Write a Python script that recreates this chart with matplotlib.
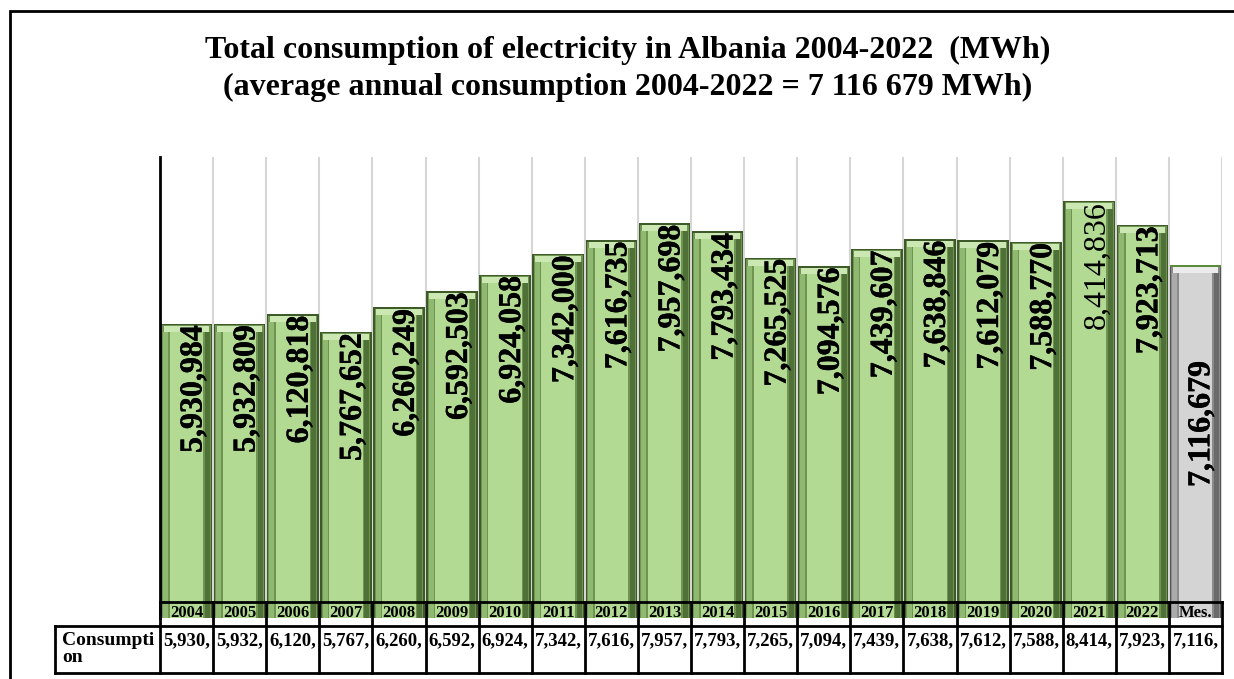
import matplotlib.pyplot as plt
import matplotlib.transforms as mtransforms
import matplotlib.patheffects as pe
from matplotlib.patches import Rectangle

plt.rcParams['font.family'] = 'Liberation Serif'

# data
categories = ['2004', '2005', '2006', '2007', '2008', '2009', '2010', '2011', '2012', '2013',
              '2014', '2015', '2016', '2017', '2018', '2019', '2020', '2021', '2022', 'Mes.']
values = [5930984, 5932809, 6120818, 5767652, 6260249, 6592503, 6924058, 7342000, 7616735,
          7957698, 7793434, 7265525, 7094576, 7439607, 7638846, 7612079, 7588770, 8414836,
          7923713, 7116679]
table_labels = ['5,930,', '5,932,', '6,120,', '5,767,', '6,260,', '6,592,', '6,924,', '7,342,',
                '7,616,', '7,957,', '7,793,', '7,265,', '7,094,', '7,439,', '7,638,', '7,612,',
                '7,588,', '8,414,', '7,923,', '7,116,']
row_name = 'Consumpti\non'

W, H = 1234, 679
fig = plt.figure(figsize=(W / 100, H / 100), dpi=100)
fig.patch.set_facecolor('white')

# outer frame
fig.add_artist(Rectangle((10 / W, 1 - 690 / H), 1240 / W, 679 / H, transform=fig.transFigure,
                         fill=False, lw=2, edgecolor='black'))

fig.text(628 / W, 1 - 50 / H, 'Total consumption of electricity in Albania 2004-2022  (MWh)',
         ha='center', va='center', fontsize=23, fontweight='bold')
fig.text(628 / W, 1 - 87 / H, '(average annual consumption 2004-2022 = 7 116 679 MWh)',
         ha='center', va='center', fontsize=23, fontweight='bold')

ax_top, ax_bot, ax_left, ax_right = 157, 618, 160, 1222
n = len(categories)
px_x = n / (ax_right - ax_left)        # one pixel in x data units
px_y = 1e6 / 49.6                      # one pixel in y data units
ax = fig.add_axes([ax_left / W, 1 - ax_bot / H, (ax_right - ax_left) / W, (ax_bot - ax_top) / H])
ax.set_xlim(-0.5, n - 0.5)
ax.set_ylim(0, (ax_bot - ax_top) * px_y)
ax.set_xticks([])
ax.set_yticks([])
for s in ['top', 'right', 'bottom']:
    ax.spines[s].set_visible(False)
ax.spines['left'].set_linewidth(2)
ax.spines['left'].set_zorder(7)

x = list(range(n))
green = {'edge': '#3e5a29', 'side': '#6f9452', 'left': '#8fb870', 'right': '#4f7036',
         'top': '#cbe7b2', 'face': '#b3da93'}
grey = {'edge': '#555555', 'side': '#8a8a8a', 'left': '#ababab', 'right': '#6a6a6a',
        'top': '#ececec', 'face': '#d4d4d4'}
cols = [grey if c == 'Mes.' else green for c in categories]

def pick(key):
    return [c[key] for c in cols]

bw = 0.97
bev = 8 * px_y
# bevel-like bars built from stacked rectangles
ax.bar(x, values, width=bw, color=pick('edge'), zorder=2)
ax.bar(x, [v - 1.5 * px_y for v in values], width=bw - 3 * px_x, color=pick('side'), zorder=3)
ax.bar([i - bw / 2 + 5 * px_x for i in x], [v - bev for v in values], width=5 * px_x,
       color=pick('left'), zorder=3.5)
ax.bar([i + bw / 2 - 5 * px_x for i in x], [v - bev for v in values], width=5 * px_x,
       color=pick('right'), zorder=3.5)
ax.bar(x, [bev - 2 * px_y] * n, bottom=[v - bev for v in values], width=bw - 6 * px_x,
       color=pick('top'), zorder=3.6)
ax.bar(x, [v - bev for v in values], width=bw - 18 * px_x, color=pick('face'), zorder=4)
# thin green outline on top of the average bar
ax.bar([n - 1], [2 * px_y], bottom=[values[-1] - 2 * px_y], width=bw, color='#5b8a3a', zorder=4.5)

# vertical gridlines
for k in range(n):
    ax.axvline(k + 0.5, color='#d6d6d6', lw=1.5, zorder=1)

stroke = [pe.withStroke(linewidth=0.3, foreground='black')]
for i, v in enumerate(values):
    lbl = f'{v:,}'
    if categories[i] == 'Mes.':
        ax.text(i + 0.12, v * 0.55, lbl, rotation=90, ha='center', va='center',
                fontsize=23, fontweight='bold', zorder=6, path_effects=stroke)
    else:
        bold = categories[i] != '2021'
        ax.text(i + 0.14, v - 1 * px_y, lbl, rotation=90, ha='center', va='top',
                fontsize=23, fontweight='bold' if bold else 'normal', zorder=6,
                path_effects=stroke if bold else None)

# data table under the axis
tr = mtransforms.blended_transform_factory(ax.transData, fig.transFigure)
def fy(py):
    return 1 - py / H

y_year_top, y_mid, y_bot = 602, 626, 673
x_head = (55 - ax_left) * px_x - 0.5
lk = dict(transform=tr, color='black', lw=2, clip_on=False, zorder=8)
ax.plot([-0.5, n - 0.5], [fy(y_year_top)] * 2, **lk)
ax.plot([x_head, n - 0.5], [fy(y_mid)] * 2, **lk)
ax.plot([x_head, n - 0.5], [fy(y_bot)] * 2, **lk)
ax.plot([x_head, x_head], [fy(y_mid), fy(y_bot)], **lk)
for k in range(n + 1):
    ax.plot([k - 0.5, k - 0.5], [fy(y_year_top), fy(y_bot)], **lk)

for i, c in enumerate(categories):
    ax.text(i, fy(613), c, transform=tr, ha='center', va='center', fontsize=12,
            fontweight='bold', zorder=9, clip_on=False)
    ax.text(i, fy(641), table_labels[i], transform=tr, ha='center', va='center', fontsize=13.5,
            fontweight='bold', zorder=9, clip_on=False)
ax.text(x_head + 7 * px_x, fy(632), row_name, transform=tr, ha='left', va='top', fontsize=14,
        fontweight='bold', linespacing=1.0, zorder=9, clip_on=False)

plt.savefig('out.png', dpi=100)
